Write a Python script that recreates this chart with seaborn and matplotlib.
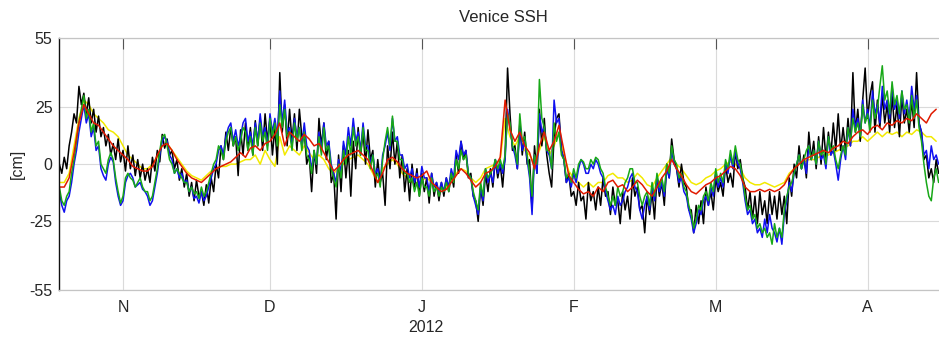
import matplotlib
matplotlib.use("Agg")
import matplotlib.pyplot as plt
import pandas as pd
import seaborn as sns

# Sea-surface height at Venice (cm). The three tide-resolving runs are
# sampled twice a day, the two smoothed runs once a day, from 19 Oct 2011.
start_date = "2011-10-19"

black_cm = [
    0, -4, 3, -2, 8, 14, 22, 18, 34, 26, 31, 22, 29, 18, 24, 14, 21, 12, 16, 8,
    13, 4, 9, 2, 11, 1, 6, -3, 8, -2, 4, -5, 2, -6, 0, -7, -2, -8, 3, -3,
    6, 1, 13, 7, 11, 4, 6, -2, 2, -7, -2, -10, -4, -14, -8, -16, -7, -14, -12, -18,
    -9, -17, -6, -12, 0, -6, 8, 2, 14, 6, 16, 8, 12, -5, 15, 4, 18, 6, 16, 4,
    19, 8, 20, 6, 22, 10, 20, 4, 16, 0, 40, 14, 26, 8, 24, 10, 22, 6, 24, 12,
    14, 0, 4, -12, 6, -4, 20, 8, 18, 2, 10, -8, -4, -24, 4, -12, 8, -6, 6, -14,
    10, -2, 16, 4, 14, 0, 15, 2, 6, -10, 2, -8, -4, -18, 8, -2, 14, 0, 10, -6,
    4, -12, -2, -16, 0, -10, -2, -14, -4, -12, -6, -17, -4, -14, -8, -16, -8, -14, -6, -12,
    -4, -10, 4, -4, 10, 2, 6, -6, -4, -14, -16, -25, -10, -18, -4, -12, -2, -10, 2, -6,
    0, -10, 4, 42, 22, 6, 8, -2, 18, 4, 14, 0, 2, -20, 8, -4, 24, 8, 20, 4,
    -4, -10, 12, 20, 22, 6, 2, -8, -4, -14, -12, -18, -8, -16, -14, -24, -8, -16, -12, -20,
    -10, -18, -6, -14, -12, -22, -10, -18, -16, -26, -12, -20, -14, -24, -6, -14, -10, -20, -18, -30,
    -14, -22, -12, -24, -6, -14, -8, -18, 0, -6, 11, 2, -2, -10, 0, -8, -10, -20, -20, -30,
    -18, -26, -16, -26, -10, -18, -12, -20, -6, -12, -8, -14, 0, -8, -4, -10, 6, -2, 2, -6,
    -10, -20, -12, -24, -14, -26, -12, -22, -16, -26, -12, -22, -14, -24, -12, -22, -14, -26, -6, -14,
    0, -6, 8, -2, 4, -6, 14, 2, 10, -2, 12, 0, 16, 2, 14, 4, 18, 6, 22, 6,
    16, 6, 20, 8, 40, 14, 24, 10, 28, 42, 20, 30, 36, 14, 28, 16, 30, 18, 26, 14,
    30, 16, 26, 12, 30, 18, 24, 14, 28, 16, 40, 18, 14, 2, 4, -6, -2, -8, 2, -4,
]

blue_cm = [
    -12, -18, -21, -16, -14, -8, 0, 6, 14, 20, 26, 18, 22, 12, 16, 6, 8, -2, -5, -7,
    0, 3, 1, -8, -14, -18, -16, -8, -5, -4, -6, -10, -9, -8, -11, -12, -14, -18, -16, -10,
    -4, 4, 10, 12, 10, 4, 2, -4, -2, -6, -4, -8, -7, -12, -10, -15, -14, -17, -12, -16,
    -14, -10, -6, -2, 0, 6, 8, 4, 12, 16, 18, 10, 15, 8, 12, 18, 20, 10, 14, 8,
    18, 10, 22, 12, 16, 8, 22, 14, 20, 12, 32, 18, 28, 14, 16, 8, 20, 12, 16, 8,
    18, 8, 6, -2, 4, 0, 14, 6, 18, 8, 10, 0, -4, -8, 2, -4, 10, 4, 16, 8,
    20, 10, 14, 6, 18, 8, 8, 0, 4, -4, -2, -8, 4, 8, 14, 6, 20, 10, 12, 4,
    4, -2, 0, -6, -2, -8, -4, -10, -1, -6, -6, -12, -4, -10, -8, -12, -8, -12, -6, -10,
    -2, -6, 6, 2, 10, 4, 6, -4, -6, -14, -18, -22, -10, -16, -2, -8, -4, -8, 2, -4,
    0, -4, 2, 24, 16, 8, 4, -2, 16, 6, 10, 2, -6, -22, 4, -4, 22, 14, 16, 6,
    4, -2, 28, 18, 20, 6, 2, -8, -6, -10, -4, -8, -2, 2, 0, -4, -4, 0, -2, 2,
    0, -4, -6, -12, -16, -20, -18, -22, -14, -18, -16, -12, -10, -6, -4, -10, -12, -20, -24, -18,
    -14, -20, -10, -16, -6, -12, -8, -14, -2, -6, 6, 0, -2, -8, -6, -12, -14, -20, -24, -30,
    -26, -20, -22, -16, -14, -18, -10, -14, -4, -10, -6, -10, 0, -4, 4, -2, 6, 0, -2, -8,
    -16, -22, -20, -26, -24, -30, -28, -32, -24, -30, -22, -28, -30, -34, -28, -35, -22, -16, -8, -12,
    -4, 0, 4, -2, 2, -4, 8, 2, 6, 0, 10, 2, 4, -2, 12, 4, 6, 0, -7, 2,
    8, 2, 16, 8, 24, 16, 20, 12, 28, 18, 24, 16, 32, 22, 26, 18, 34, 24, 28, 20,
    34, 24, 28, 20, 32, 22, 28, 20, 34, 24, 30, 18, 14, 4, 6, -2, 8, 2, 4, 0,
]

green_cm = [
    -10, -16, -18, -14, -12, -4, 2, 10, 18, 24, 30, 20, 24, 14, 18, 8, 10, 0, -2, -4,
    2, 5, 2, -6, -12, -17, -14, -6, -4, -6, -7, -10, -8, -6, -10, -12, -12, -16, -14, -8,
    -2, 6, 12, 13, 8, 2, 0, -4, -2, -4, -6, -8, -8, -12, -10, -13, -12, -15, -10, -14,
    -12, -8, -4, 0, 2, 8, 6, 2, 10, 14, 16, 8, 12, 6, 10, 16, 14, 6, 12, 4,
    16, 8, 18, 10, 14, 6, 20, 12, 18, 8, 26, 16, 24, 12, 14, 6, 18, 10, 16, 6,
    14, 4, 2, -4, 6, 0, 12, 4, 16, 6, 8, -2, -6, -10, 0, -6, 6, 0, 12, 4,
    16, 8, 12, 4, 16, 6, 6, -2, 4, -6, -4, -10, 2, 10, 16, 8, 21, 10, 10, 2,
    2, -4, -4, -8, -6, -12, -8, -14, -6, -10, -10, -14, -6, -12, -10, -14, -10, -12, -8, -12,
    -4, -8, 2, -2, 6, 2, 4, -4, -6, -12, -16, -20, -8, -14, -2, -6, -4, -2, 2, -2,
    2, -2, 4, 22, 18, 8, 6, 0, 22, 10, 12, 4, -4, -14, 4, 0, 37, 20, 16, 6,
    6, -2, 18, 10, 14, 4, 2, -6, -4, -8, -2, -6, 0, 2, 1, -2, -2, 2, 0, 3,
    2, -2, -4, -10, -14, -18, -14, -18, -10, -14, -12, -8, -6, -2, -2, -8, -8, -14, -18, -14,
    -12, -18, -8, -14, -4, -10, -6, -12, 0, -4, 8, 2, 0, -6, -4, -10, -12, -18, -22, -28,
    -24, -18, -20, -14, -12, -16, -8, -12, -2, -8, -4, -8, 2, -2, 6, 0, 8, 2, 0, -6,
    -14, -20, -18, -24, -22, -28, -26, -30, -28, -32, -30, -35, -26, -32, -28, -32, -20, -14, -10, -8,
    -4, 0, 4, -2, 2, 6, 8, 2, 6, 0, 10, 4, 6, 0, 12, 6, 8, 2, -2, 4,
    8, 4, 16, 10, 20, 14, 18, 12, 26, 18, 22, 14, 28, 20, 24, 34, 43, 28, 32, 22,
    36, 26, 30, 22, 32, 24, 26, 18, 30, 20, 28, 16, 10, 0, -8, -14, -16, -6, -2, -8,
]

red_cm = [
    -10, -10, -6, 5, 18, 26, 22, 18, 17, 14,
    11, 8, 6, 4, 2, -1, -2, -3, -3, -1,
    4, 8, 9, 6, 2, -1, -4, -6, -7, -8,
    -6, -4, -2, -1, 0, 1, 3, 5, 3, 7,
    8, 6, 9, 10, 13, 18, 8, 14, 12, 10,
    13, 11, 8, 9, 5, 1, -3, -1, 2, 4,
    5, 6, 4, 2, -3, -8, -4, 2, 3, 1,
    -2, -4, -5, -6, -5, -3, -8, -10, -12, -11,
    -8, -5, -2, -4, -7, -10, -8, -4, -3, -1,
    3, 28, 15, 10, 14, 8, 5, -2, 8, 14,
    6, 10, 17, 6, -5, -8, -11, -13, -12, -14,
    -10, -12, -8, -7, -10, -9, -12, -10, -7, -9,
    -12, -14, -10, -6, -3, 2, -2, -5, -9, -12,
    -13, -11, -9, -8, -6, -5, -3, -1, -2, -5,
    -10, -12, -12, -11, -12, -11, -12, -11, -9, -5,
    -2, 0, 2, 3, 4, 5, 6, 5, 7, 8,
    10, 9, 12, 14, 15, 13, 16, 17, 15, 18,
    17, 19, 18, 20, 19, 22, 20, 18, 22, 24,
]

yellow_cm = [
    -8, -8, -4, 8, 20, 28, 26, 22, 20, 18,
    15, 14, 12, 8, 4, 2, 0, -2, -2, 0,
    3, 8, 9, 6, 3, 0, -3, -5, -6, -7,
    -5, -3, -2, -1, -1, 0, 0, 1, 2, 2,
    4, 0, 6, 2, -1, 12, 4, 8, 6, 4,
    8, 5, 2, 4, 2, -2, -4, -2, 0, 2,
    3, 4, 2, 0, -4, -8, -2, 0, 2, 0,
    -4, -6, -8, -8, -7, -6, -8, -10, -11, -10,
    -7, -4, -2, -3, -6, -8, -6, -2, -1, 0,
    2, 20, 12, 8, 12, 6, 4, 0, 6, 12,
    4, 8, 14, 4, -3, -6, -8, -10, -8, -10,
    -8, -8, -5, -4, -6, -6, -8, -7, -4, -6,
    -9, -10, -6, -3, 0, 3, 0, -2, -5, -8,
    -9, -8, -6, -5, -3, -2, 0, 1, 0, -2,
    -6, -8, -9, -9, -8, -9, -10, -9, -8, -4,
    -2, 0, 1, 2, 2, 3, 4, 4, 5, 6,
    7, 8, 10, 10, 12, 10, 12, 14, 12, 14,
    13, 14, 12, 14, 13, 15, 14, 12, 12, 10,
]

month_starts = ["2011-11-01", "2011-12-01", "2012-01-01",
                "2012-02-01", "2012-03-01", "2012-04-01"]
month_labels = ["N", "D", "J", "F", "M", "A"]
y_ticks = [-55, -25, 0, 25, 55]

run_colors = {
    "yellow": "#f2ea00",
    "black": "#000000",
    "blue": "#1010f0",
    "green": "#18a818",
    "red": "#e01a00",
}
draw_order = ["yellow", "black", "blue", "green", "red"]

half_days = pd.date_range(start_date, periods=len(black_cm), freq="12h")
days = pd.date_range(start_date, periods=len(red_cm), freq="D")
frames = []
for name, vals in (("black", black_cm), ("blue", blue_cm), ("green", green_cm)):
    frames.append(pd.DataFrame({"time": half_days, "ssh": vals, "run": name}))
for name, vals in (("red", red_cm), ("yellow", yellow_cm)):
    frames.append(pd.DataFrame({"time": days, "ssh": vals, "run": name}))
df = pd.concat(frames, ignore_index=True)

sns.set_style("white")
plt.rcParams["font.family"] = ["Liberation Sans", "DejaVu Sans"]

fig = plt.figure(figsize=(9.39, 3.42), dpi=100)
ax = fig.add_axes([0.0632, 0.152, 0.9464, 0.736])

sns.lineplot(data=df, x="time", y="ssh", hue="run", hue_order=draw_order,
             palette=run_colors, linewidth=1.1, legend=False,
             estimator=None, ax=ax)

ax.set_xlim(pd.Timestamp("2011-10-19"), pd.Timestamp("2012-04-17 10:00"))
ax.set_ylim(-55, 55)
ax.set_xticks(pd.to_datetime(month_starts))
ax.set_xticklabels(month_labels)
ax.set_yticks(y_ticks)
ax.set_yticklabels([str(v) for v in y_ticks])

ax.grid(True, color="#dadada", linewidth=0.8)
ax.set_axisbelow(True)
ax.tick_params(axis="x", direction="in", length=8, top=True, width=0.8,
               color="#555555", labelsize=11.5, pad=7)
ax.tick_params(axis="y", direction="in", length=6, width=0.8,
               color="#888888", labelsize=11.5, pad=5)

ax.spines["left"].set_color("#111111")
ax.spines["left"].set_linewidth(1.0)
for side in ("bottom", "top", "right"):
    ax.spines[side].set_color("#c4c4c4")
    ax.spines[side].set_linewidth(0.9)

ax.set_xlabel("")
ax.set_ylabel("[cm]", fontsize=11.5)
ax.yaxis.set_label_coords(-0.039, 0.5)
ax.set_title("Venice SSH", fontsize=12, pad=12)

fig.text(426 / 939, 1 - 327 / 342, "2012", ha="center", va="center",
         fontsize=11.5)

fig.savefig("out.png", dpi=100)
